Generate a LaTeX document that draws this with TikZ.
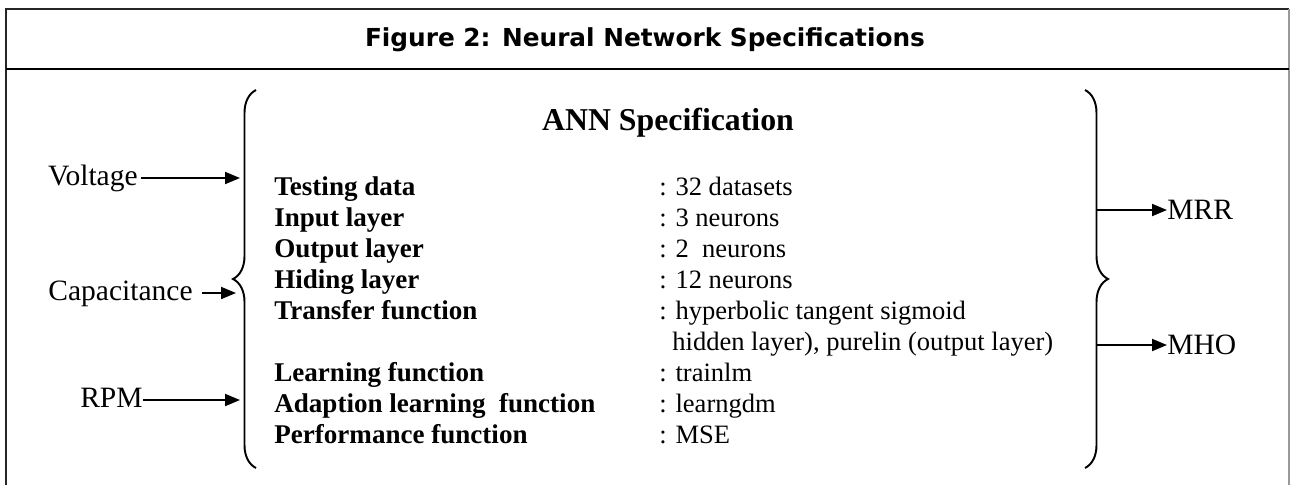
\documentclass[tikz,border=0pt]{standalone}
\usepackage{fontspec}
\setmainfont{Liberation Serif}
\newfontfamily\headfont{DejaVu Sans}
\usetikzlibrary{arrows.meta,decorations.pathreplacing}

\begin{document}
\begin{tikzpicture}[x=0.02cm,y=-0.02cm,
  lbl/.style={font=\fontsize{16.8}{19}\selectfont,inner sep=0pt},
  spec/.style={font=\fontsize{15.4}{17}\selectfont\bfseries,inner sep=0pt,anchor=base west},
  val/.style={font=\fontsize{15.1}{17}\selectfont,inner sep=0pt,anchor=base west},
  arr/.style={line width=1.1pt,-{Triangle[length=0.3cm,width=0.24cm]}},
  curly/.style={line width=1.1pt,decorate,decoration={brace,amplitude=0.46cm}}]

\useasboundingbox (0,0) rectangle (1290,485);

% Cadre et titre
\draw[line width=1.1pt,black!85] (6,485) -- (6,9) -- (1289,9);
\draw[line width=1.1pt,black!40] (1289,9) -- (1289,485);
\draw[line width=1.1pt] (6,69) -- (1289,69);
\node (titre) at (645,40) {\headfont\bfseries\fontsize{14.1}{16}\selectfont Figure 2: Neural Network Specifications};

% Accolades
\draw[curly] (256,468) -- (256,90);
\draw[curly] (1085,90) -- (1085,468);

% En-tete
\node[font=\fontsize{18.1}{21}\selectfont\bfseries,anchor=base] (ann) at (668,130) {ANN Specification};

% Parametres
\node[spec] (testing) at (274,195) {Testing data};
\node[spec] (input) at (274,226) {Input layer};
\node[spec] (output) at (274,257) {Output layer};
\node[spec] (hiding) at (274,288) {Hiding layer};
\node[spec] (transfer) at (274,319) {Transfer function};
\node[spec] (learning) at (274,381) {Learning function};
\node[spec] (adaption) at (274,412) {Adaption learning~ function};
\node[spec] (perf) at (274,443) {Performance function};

% Valeurs
\node[val] (testingval) at (659,195) {: 32 datasets};
\node[val] (inputval) at (659,226) {: 3 neurons};
\node[val] (outputval) at (659,257) {: 2~ neurons};
\node[val] (hidingval) at (659,288) {: 12 neurons};
\node[val] (transferval) at (659,319) {: hyperbolic tangent sigmoid};
\node[val] (transferval2) at (672,350) {hidden layer), purelin (output layer)};
\node[val] (learningval) at (659,381) {: trainlm};
\node[val] (adaptionval) at (659,412) {: learngdm};
\node[val] (perfval) at (659,443) {: MSE};

% Entrees
\node[lbl,anchor=base east] (voltage) at (138,185) {Voltage};
\node[lbl,anchor=base east] (capa) at (193,300) {Capacitance};
\node[lbl,anchor=base east] (rpm) at (143,407) {RPM};
\coordinate (bv) at (240,178);
\coordinate (bc) at (236,293);
\coordinate (br) at (240,400);
\draw[arr] (voltage.east |- bv) ++(3,0) -- (bv);
\draw[arr] (capa.east |- bc) ++(9,0) -- (bc);
\draw[arr] (rpm.east |- br) -- (br);

% Sorties
\node[lbl,anchor=west] (mrr) at (1167,210) {MRR};
\node[lbl,anchor=west] (mho) at (1167,345) {MHO};
\coordinate (sr) at (1097,210);
\coordinate (sh) at (1096,345);
\draw[arr] (sr) -- (mrr.west);
\draw[arr] (sh) -- (mho.west);

\end{tikzpicture}
\end{document}
